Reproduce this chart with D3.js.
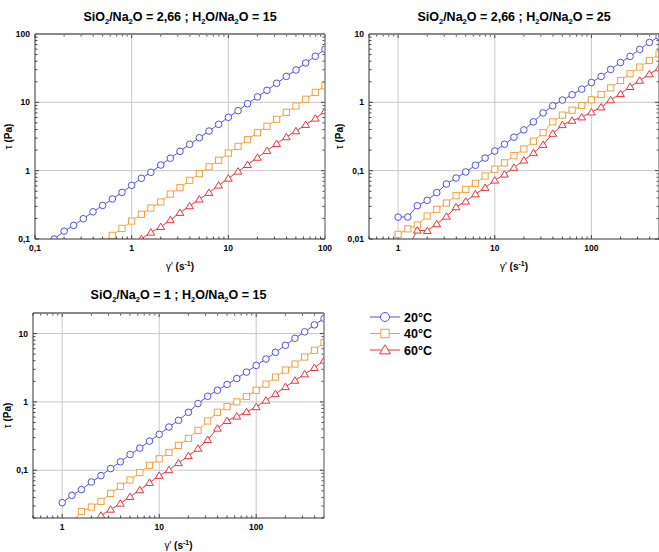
<!DOCTYPE html>
<html><head><meta charset="utf-8">
<script src="https://cdn.jsdelivr.net/npm/d3@7"></script>
<style>body{margin:0;background:#fff;} text{font-family:"Liberation Sans",Arial,sans-serif;font-weight:bold;fill:#000;}</style>
</head><body><svg id="c" width="659" height="552"></svg>
<script>
// ---- data ----
const series = ["20°C", "40°C", "60°C"];
const colors = ["#5050dc", "#f2a13e", "#e8343e"];

const p1X = [0.158,0.2,0.251,0.316,0.398,0.501,0.631,0.794,1,1.26,1.58,2,2.51,3.16,3.98,5.01,6.31,7.94,10,12.6,15.8,20,25.1,31.6,39.8,50.1,63.1,79.4,100];
const p1Blue = [0.1,0.13,0.158,0.198,0.25,0.31,0.385,0.48,0.61,0.773,0.946,1.21,1.52,1.92,2.43,3.03,3.8,4.77,6.04,7.55,9.55,12,15,19,24,29.7,37.7,47.2,59.7];
const p1Orange = [null,null,null,null,null,0.09,0.113,0.143,0.183,0.23,0.284,0.348,0.455,0.563,0.722,0.904,1.14,1.42,1.81,2.27,2.84,3.59,4.46,5.64,7.15,8.83,11.1,14,17.5];
const p1Red = [null,null,null,null,null,null,null,null,0.078,0.1,0.125,0.151,0.19,0.243,0.304,0.381,0.477,0.611,0.77,0.977,1.22,1.56,1.96,2.48,3.11,3.8,4.71,5.83,7.46];

const p2X = [1,1.26,1.58,2,2.51,3.16,3.98,5.01,6.31,7.94,10,12.6,15.8,20,25.1,31.6,39.8,50.1,63.1,79.4,100,126,158,200,251,316,398,501];
const p2Blue = [0.0209,0.021,0.0307,0.0368,0.0477,0.0638,0.078,0.0957,0.12,0.153,0.194,0.244,0.309,0.395,0.518,0.70,0.89,1.08,1.29,1.56,1.95,2.39,3.03,3.83,4.7,5.95,7.53,9.2];
const p2Orange = [0.0117,0.0141,0.016,0.0217,0.0272,0.0336,0.043,0.0533,0.0653,0.0836,0.105,0.130,0.166,0.208,0.27,0.36,0.518,0.649,0.768,0.898,1.09,1.30,1.63,2.09,2.62,3.28,4.1,5.1];
const p2Red = [0.006,0.0075,0.0134,0.0132,0.0166,0.0214,0.0294,0.0356,0.0455,0.0564,0.0722,0.0885,0.111,0.142,0.182,0.240,0.349,0.468,0.541,0.607,0.718,0.85,1.08,1.33,1.69,2.09,2.59,3.17];

const p3X = p2X;
const p3Blue = [0.0335,0.0429,0.052,0.0673,0.0835,0.106,0.133,0.170,0.211,0.267,0.335,0.429,0.537,0.705,0.945,1.21,1.48,1.80,2.2,2.73,3.42,4.24,5.31,6.73,8.53,10.6,13.4,16.6];
const p3Orange = [null,0.0169,0.0249,0.0289,0.035,0.0459,0.0582,0.0721,0.0924,0.118,0.147,0.182,0.231,0.292,0.383,0.526,0.705,0.854,1.0,1.2,1.48,1.82,2.31,2.92,3.58,4.54,5.69,7.38];
const p3Red = [null,null,null,0.017,0.0218,0.0267,0.0327,0.041,0.0514,0.0659,0.0835,0.101,0.128,0.162,0.208,0.279,0.41,0.531,0.615,0.713,0.844,1.05,1.31,1.66,2.06,2.55,3.16,4.05];

const titles = [
  [["SiO","n"],["2","s"],["/Na","n"],["2","s"],["O = 2,66 ; H","n"],["2","s"],["O/Na","n"],["2","s"],["O = 15","n"]],
  [["SiO","n"],["2","s"],["/Na","n"],["2","s"],["O = 2,66 ; H","n"],["2","s"],["O/Na","n"],["2","s"],["O = 25","n"]],
  [["SiO","n"],["2","s"],["/Na","n"],["2","s"],["O = 1 ; H","n"],["2","s"],["O/Na","n"],["2","s"],["O = 15","n"]]
];
const p1XTicks = [0.1,1,10,100], p1YTicks = [0.1,1,10,100];
const p2XTicks = [1,10,100], p2YTicks = [0.01,0.1,1,10];
const p3XTicks = [1,10,100], p3YTicks = [0.1,1,10];

// ---- layout ----
const panels = [
  {l:35,r:325,t:34,b:239,xd:[0.1,100],yd:[0.1,100],xt:p1XTicks,yt:p1YTicks,x:p1X,ys:[p1Blue,p1Orange,p1Red],title:titles[0],ty:20.5,ylx:12},
  {l:369,r:659,t:34,b:239,xd:[0.5,500],yd:[0.01,10],xt:p2XTicks,yt:p2YTicks,x:p2X,ys:[p2Blue,p2Orange,p2Red],title:titles[1],ty:20.5,ylx:343},
  {l:33,r:324,t:313,b:518,xd:[0.5,500],yd:[0.02,20],xt:p3XTicks,yt:p3YTicks,x:p3X,ys:[p3Blue,p3Orange,p3Red],title:titles[2],ty:298.5,ylx:11}
];
const svg = d3.select("#c");
const fmt = v => String(v).replace(".", ",");

function marker(g, type, cx, cy, s, color) {
  if (type === 0) g.append("circle").attr("cx",cx).attr("cy",cy).attr("r",s).attr("fill","#fff").attr("stroke",color).attr("stroke-width",1);
  else if (type === 1) g.append("rect").attr("x",cx-s).attr("y",cy-s).attr("width",2*s).attr("height",2*s).attr("fill","#fff").attr("stroke",color).attr("stroke-width",1);
  else { const h=s*1.15; g.append("path").attr("d",`M${cx},${cy-h}L${cx+h*1.05},${cy+h*0.75}L${cx-h*1.05},${cy+h*0.75}Z`).attr("fill","#fff").attr("stroke",color).attr("stroke-width",1); }
}

panels.forEach((p,i) => {
  const x = d3.scaleLog().domain(p.xd).range([p.l,p.r]);
  const y = d3.scaleLog().domain(p.yd).range([p.b,p.t]);
  const g = svg.append("g");
  const cid = "clip"+i;
  svg.append("clipPath").attr("id",cid).append("rect").attr("x",p.l).attr("y",p.t).attr("width",p.r-p.l).attr("height",p.b-p.t);
  // grid
  p.xt.forEach(v => { if (x(v)>p.l+1 && x(v)<p.r-1) g.append("line").attr("x1",x(v)).attr("x2",x(v)).attr("y1",p.t).attr("y2",p.b).attr("stroke","#c8c8c8").attr("stroke-width",1); });
  p.yt.forEach(v => { if (y(v)<p.b-1 && y(v)>p.t+1) g.append("line").attr("y1",y(v)).attr("y2",y(v)).attr("x1",p.l).attr("x2",p.r).attr("stroke","#c8c8c8").attr("stroke-width",1); });
  // minor/major ticks
  const xAll = x.ticks(20).filter(v => v>=p.xd[0]*0.999 && v<=p.xd[1]*1.001);
  const yAll = y.ticks(20).filter(v => v>=p.yd[0]*0.999 && v<=p.yd[1]*1.001);
  const isMajor = v => Math.abs(Math.log10(v)-Math.round(Math.log10(v)))<1e-6;
  xAll.forEach(v => {
    const len = isMajor(v)?4:2.5, xx = x(v);
    g.append("line").attr("x1",xx).attr("x2",xx).attr("y1",p.b).attr("y2",p.b-len).attr("stroke","#444");
    g.append("line").attr("x1",xx).attr("x2",xx).attr("y1",p.t).attr("y2",p.t+len).attr("stroke","#444");
  });
  yAll.forEach(v => {
    const len = isMajor(v)?4:2.5, yy = y(v);
    g.append("line").attr("y1",yy).attr("y2",yy).attr("x1",p.l).attr("x2",p.l+len).attr("stroke","#444");
    g.append("line").attr("y1",yy).attr("y2",yy).attr("x1",p.r).attr("x2",p.r-len).attr("stroke","#444");
  });
  // data
  const dg = g.append("g").attr("clip-path",`url(#${cid})`);
  p.ys.forEach((arr,si) => {
    const pts = p.x.map((xv,k)=>[xv,arr[k]]).filter(d=>d[1]!=null);
    dg.append("path").datum(pts).attr("fill","none").attr("stroke",colors[si]).attr("stroke-width",1)
      .attr("d", d3.line().x(d=>x(d[0])).y(d=>y(d[1])));
    pts.forEach(d => marker(dg, si, x(d[0]), y(d[1]), si===0?3.3:(si===1?3.1:3.2), colors[si]));
  });
  // frame
  g.append("line").attr("x1",p.l).attr("x2",p.r).attr("y1",p.t).attr("y2",p.t).attr("stroke","#888").attr("stroke-width",2);
  g.append("line").attr("x1",p.r).attr("x2",p.r).attr("y1",p.t).attr("y2",p.b).attr("stroke","#888").attr("stroke-width",1.5);
  g.append("line").attr("x1",p.l).attr("x2",p.r).attr("y1",p.b).attr("y2",p.b).attr("stroke","#333").attr("stroke-width",1);
  g.append("line").attr("x1",p.l).attr("x2",p.l).attr("y1",p.t).attr("y2",p.b).attr("stroke","#333").attr("stroke-width",1);
  // tick labels
  p.xt.forEach(v => g.append("text").attr("x",x(v)).attr("y",p.b+12).attr("text-anchor","middle").attr("font-size",8.5).text(fmt(v)));
  p.yt.forEach(v => g.append("text").attr("x",p.l-5).attr("y",y(v)+3).attr("text-anchor","end").attr("font-size",8.5).text(fmt(v)));
  // title
  const t = g.append("text").attr("x",(p.l+p.r)/2).attr("y",p.ty).attr("text-anchor","middle").attr("font-size",12.5);
  let prevSub = false;
  p.title.forEach(([s,k]) => {
    if (k==="s") { t.append("tspan").attr("font-size",7.5).attr("dy",3).text(s); prevSub = true; }
    else { t.append("tspan").attr("dy", prevSub ? -3 : 0).text(s); prevSub = false; }
  });
  // axis titles
  const xl = g.append("text").attr("x",(p.l+p.r)/2).attr("y",p.b+31).attr("text-anchor","middle").attr("font-size",10);
  xl.append("tspan").attr("font-weight","normal").text("γ'");
  xl.append("tspan").text(" (s");
  xl.append("tspan").attr("font-size",7).attr("dy",-4).text("-1");
  xl.append("tspan").attr("dy",4).text(")");
  const yl = g.append("text").attr("transform",`translate(${p.ylx},${(p.t+p.b)/2}) rotate(-90)`).attr("text-anchor","middle").attr("font-size",10);
  yl.append("tspan").attr("font-weight","normal").text("τ");
  yl.append("tspan").text(" (Pa)");
});

// legend
const lg = svg.append("g");
series.forEach((s,i) => {
  const yy = 317 + i*16.5;
  lg.append("line").attr("x1",370).attr("x2",400).attr("y1",yy).attr("y2",yy).attr("stroke",colors[i]).attr("stroke-width",1);
  marker(lg, i, 385, yy, i===0?4.5:(i===1?4.2:4.5), colors[i]);
  lg.append("text").attr("x",404).attr("y",yy+4.5).attr("font-size",12.5).text(s);
});
</script></body></html>
